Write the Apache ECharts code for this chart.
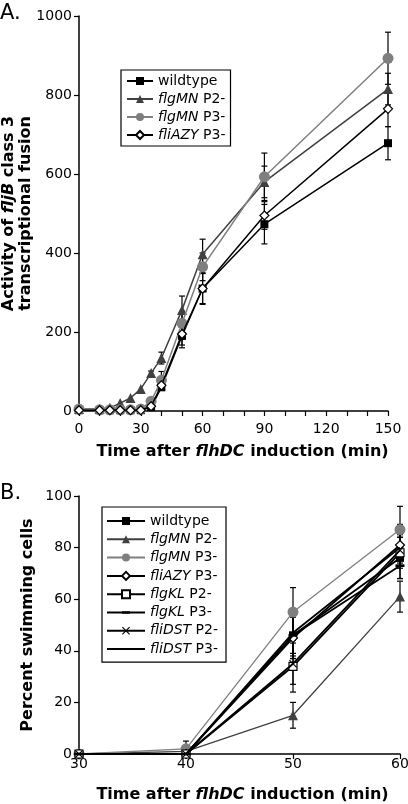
<!DOCTYPE html>
<html><head><meta charset="utf-8">
<script src="https://cdn.jsdelivr.net/npm/echarts@6/dist/echarts.min.js"></script>
<style>html,body{margin:0;padding:0;background:#fff}#c{width:408px;height:804px}</style>
</head><body><div id="c"></div>
<script>
// ---------- Panel A data ----------
const timesA = [0,10,15,20,25,30,35,40,50,60,90,150];
const wildtypeA   = [2,2,2,2,2,2,10,60,190,310,473,678];
const flgMNP2A    = [5,5,8,20,33,56,96,134,256,397,580,815];
const flgMNP3A    = [5,3,3,3,3,5,25,78,222,365,593,893];
const fliAZYP3A   = [2,2,2,2,2,2,12,65,195,310,495,765];
const wildtypeAErr = [0,0,0,0,0,0,2,5,30,40,50,42];
const flgMNP2AErr  = [0,0,0,0,0,0,5,15,35,38,40,40];
const flgMNP3AErr  = [0,0,0,0,0,0,5,22,30,35,60,66];
const fliAZYP3AErr = [0,0,0,0,0,0,3,8,28,38,35,45];
const ticksAY = [0,200,400,600,800,1000];
const ticksAX = [0,30,60,90,120,150];

// ---------- Panel B data ----------
const timesB = [30,40,50,60];
const wildtypeB = [0,0,46,76];
const flgMNP2B  = [0,1,15,61];
const flgMNP3B  = [0,2,55,87];
const fliAZYP3B = [0,0,45,81];
const flgKLP2B  = [0,0,34,78];
const flgKLP3B  = [0,0,46,73];
const fliDSTP2B = [0,0,35,79];
const fliDSTP3B = [0,0,47,80];
const wildtypeBErr = [0,0,9,8];
const flgMNP2BErr  = [0,1,5,6];
const flgMNP3BErr  = [0,3,9.5,9];
const fliAZYP3BErr = [0,0,8,8];
const flgKLP2BErr  = [0,0,10,6];
const flgKLP3BErr  = [0,0,8,5];
const fliDSTP2BErr = [0,0,8,6];
const fliDSTP3BErr = [0,0,8,6];

const FONT = 'DejaVu Sans';
const BLACK = '#000000', DARK = '#404040', GRAY = '#7f7f7f', NONE = 'rgba(0,0,0,0)';
const XPATH = 'path://M0,1L1,0L5,4L9,0L10,1L6,5L10,9L9,10L5,6L1,10L0,9L4,5Z';
const DASHPATH = 'path://M5,0M0,3.5H10V6.5H0Z M5,10';

function lineSeries(name, xi, times, vals, color, symbol, size, fill, lw, z) {
  const hidden = symbol === 'none';
  return {
    name, type: 'line', xAxisIndex: xi, yAxisIndex: xi, z,
    data: times.map((t, i) => [t, vals[i]]),
    symbol: hidden ? 'circle' : symbol, symbolSize: size, showSymbol: !hidden,
    lineStyle: { color, width: lw },
    itemStyle: hidden ? { color: NONE, borderColor: NONE, borderWidth: 0 }
                      : { color: fill, borderColor: color, borderWidth: fill === '#fff' ? 1.2 : 0 },
    emphasis: { disabled: true }, animation: false
  };
}
function errSeries(xi, times, vals, errs, color, z) {
  const data = [];
  times.forEach((t, i) => { if (errs[i] > 0) data.push([t, vals[i] - errs[i], vals[i] + errs[i]]); });
  return {
    type: 'custom', xAxisIndex: xi, yAxisIndex: xi, z, silent: true, animation: false,
    data, encode: { x: 0, y: [1, 2] },
    renderItem(params, api) {
      const x = api.value(0);
      const lo = api.coord([x, api.value(1)]);
      const hi = api.coord([x, api.value(2)]);
      const w = 3, st = { stroke: color, lineWidth: 1.2 };
      return { type: 'group', children: [
        { type: 'line', shape: { x1: lo[0], y1: lo[1], x2: hi[0], y2: hi[1] }, style: st },
        { type: 'line', shape: { x1: lo[0] - w, y1: lo[1], x2: lo[0] + w, y2: lo[1] }, style: st },
        { type: 'line', shape: { x1: hi[0] - w, y1: hi[1], x2: hi[0] + w, y2: hi[1] }, style: st }
      ]};
    }
  };
}
function fmt(name) {
  const n = name.slice(2);
  const sp = n.indexOf(' ');
  if (sp < 0) return n;
  return '{i|' + n.slice(0, sp) + '}' + n.slice(sp);
}

const seriesA = [
  ['A:wildtype', wildtypeA, wildtypeAErr, BLACK, 'rect', 8, BLACK],
  ['A:flgMN P2-', flgMNP2A, flgMNP2AErr, DARK, 'triangle', 10, DARK],
  ['A:flgMN P3-', flgMNP3A, flgMNP3AErr, GRAY, 'circle', 11, GRAY],
  ['A:fliAZY P3-', fliAZYP3A, fliAZYP3AErr, BLACK, 'diamond', 9, '#fff']
];
const seriesB = [
  ['B:wildtype', wildtypeB, wildtypeBErr, BLACK, 'rect', 8, BLACK],
  ['B:flgMN P2-', flgMNP2B, flgMNP2BErr, DARK, 'triangle', 10, DARK],
  ['B:flgMN P3-', flgMNP3B, flgMNP3BErr, GRAY, 'circle', 11, GRAY],
  ['B:fliAZY P3-', fliAZYP3B, fliAZYP3BErr, BLACK, 'diamond', 9, '#fff'],
  ['B:flgKL P2-', flgKLP2B, flgKLP2BErr, BLACK, 'rect', 8, '#fff'],
  ['B:flgKL P3-', flgKLP3B, flgKLP3BErr, BLACK, DASHPATH, 9, BLACK],
  ['B:fliDST P2-', fliDSTP2B, fliDSTP2BErr, BLACK, XPATH, 8, BLACK],
  ['B:fliDST P3-', fliDSTP3B, fliDSTP3BErr, BLACK, 'none', 0, BLACK]
];

const series = [];
seriesA.forEach((s, k) => {
  series.push(errSeries(0, timesA, s[1], s[2], BLACK, 2));
  series.push(lineSeries(s[0], 0, timesA, s[1], s[3], s[4], s[5], s[6], 1.5, 3 + k));
});
seriesB.forEach((s, k) => {
  series.push(errSeries(1, timesB, s[1], s[2], BLACK, 2));
  series.push(lineSeries(s[0], 1, timesB, s[1], s[3], s[4], s[5], s[6], s[3] === BLACK ? 1.8 : 1.3, 3 + k));
});

const axisCommon = {
  axisLine: { lineStyle: { color: '#000', width: 1.5 } },
  axisTick: { show: true, length: 5, lineStyle: { color: '#000', width: 1.2 } },
  splitLine: { show: false },
  nameMoveOverlap: false,
  axisLabel: { color: '#000', fontFamily: FONT, fontSize: 14, formatter: v => String(v) }
};
const TS = 16;
const nameStyle = {
  color: '#000', fontFamily: FONT, fontSize: TS, fontWeight: 'bold', lineHeight: 17,
  rich: {
    b: { fontFamily: FONT, fontSize: TS, fontWeight: 'bold', color: '#000', lineHeight: 17 },
    bi: { fontFamily: FONT, fontSize: TS, fontWeight: 'bold', fontStyle: 'italic', color: '#000', lineHeight: 17 }
  }
};
const xName = '{b|Time after }{bi|flhDC}{b| induction (min)}';

const legendCommon = {
  orient: 'vertical', borderColor: '#000', borderWidth: 1.2, backgroundColor: '#fff',
  itemHeight: 10, formatter: fmt, selectedMode: false,
  textStyle: { color: '#000', fontFamily: FONT, fontSize: 14,
    rich: { i: { fontStyle: 'italic', fontFamily: FONT, fontSize: 14, color: '#000' } } }
};

const option = {
  animation: false,
  backgroundColor: '#fff',
  grid: [
    { left: 79, top: 16, width: 309, height: 395, outerBoundsMode: 'none', containLabel: false },
    { left: 79, top: 496, width: 321, height: 258, outerBoundsMode: 'none', containLabel: false }
  ],
  xAxis: [
    Object.assign({}, axisCommon, {
      gridIndex: 0, type: 'value', min: 0, max: 150, interval: 30,
      minorTick: { show: true, splitNumber: 3, length: 5, lineStyle: { color: '#000', width: 1.2 } },
      axisLabel: Object.assign({}, axisCommon.axisLabel, { margin: 11 }),
      name: xName, nameLocation: 'middle', nameGap: 32,
      nameTextStyle: Object.assign({}, nameStyle, { padding: [0, 0, 0, 18] })
    }),
    Object.assign({}, axisCommon, {
      gridIndex: 1, type: 'value', min: 30, max: 60, interval: 10,
      axisLabel: Object.assign({}, axisCommon.axisLabel, { margin: 3 }),
      name: xName, nameLocation: 'middle', nameGap: 32,
      nameTextStyle: Object.assign({}, nameStyle, { padding: [0, 0, 0, 6] })
    })
  ],
  yAxis: [
    Object.assign({}, axisCommon, {
      gridIndex: 0, type: 'value', min: 0, max: 1000, interval: 200,
      axisLabel: Object.assign({}, axisCommon.axisLabel, { margin: 7 }),
      name: '{b|Activity of }{bi|fljB}{b| class 3}\n{b|transcriptional fusion}',
      nameLocation: 'middle', nameGap: 45, nameRotate: 90, nameTextStyle: nameStyle
    }),
    Object.assign({}, axisCommon, {
      gridIndex: 1, type: 'value', min: 0, max: 100, interval: 20,
      axisLabel: Object.assign({}, axisCommon.axisLabel, { margin: 7 }),
      name: '{b|Percent swimming cells}',
      nameLocation: 'middle', nameGap: 43, nameRotate: 90, nameTextStyle: nameStyle
    })
  ],
  legend: [
    Object.assign({}, legendCommon, {
      left: 121, top: 70, itemWidth: 26, itemGap: 4, padding: [4, 5, 4, 5],
      data: seriesA.map(s => s[0])
    }),
    Object.assign({}, legendCommon, {
      left: 102, top: 507, itemWidth: 38, itemGap: 4.3, padding: [7, 8, 6, 4],
      data: seriesB.map(s => s[0])
    })
  ],
  graphic: [
    { type: 'text', left: 0, top: 3, style: { text: 'A.', font: '21px "DejaVu Sans"', fill: '#000' } },
    { type: 'text', left: 0, top: 483, style: { text: 'B.', font: '21px "DejaVu Sans"', fill: '#000' } }
  ],
  series
};
const chart = echarts.init(document.getElementById('c'), null, { renderer: 'canvas' });
chart.setOption(option);
</script></body></html>
